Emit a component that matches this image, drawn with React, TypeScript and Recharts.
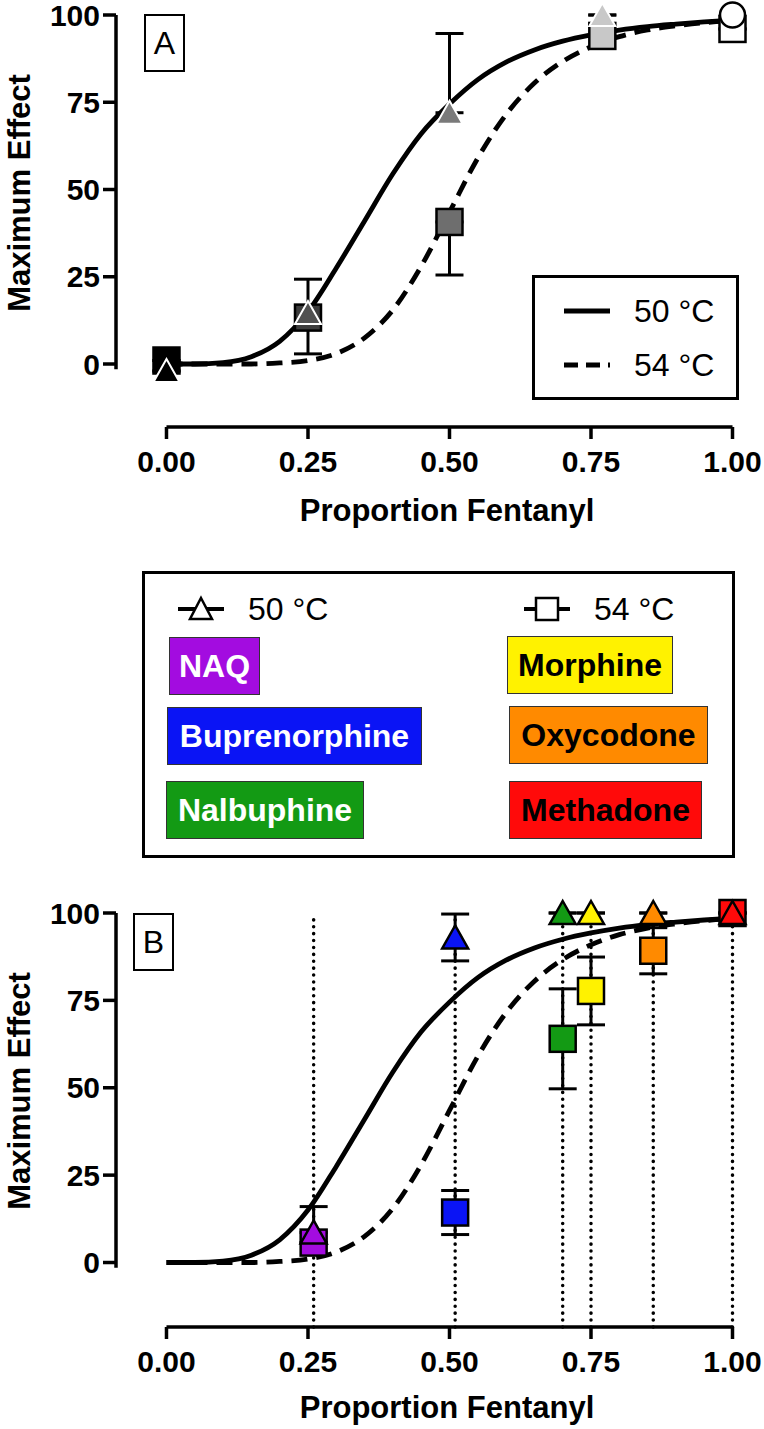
import { ComposedChart, Line, Scatter, XAxis, YAxis, ErrorBar, ReferenceLine, Cell } from 'recharts';

const FONT = '"Liberation Sans", Arial, Helvetica, sans-serif';

// fitted curves, every 0.05
const fitX = [0, 0.05, 0.1, 0.15, 0.2, 0.25, 0.3, 0.35, 0.4, 0.45, 0.5, 0.55, 0.6, 0.65, 0.7, 0.75, 0.8, 0.85, 0.9, 0.95, 1];
const fit50 = [0, 0, 0.4, 2.1, 6.5, 15, 27.5, 41, 54.5, 66, 74.5, 81.5, 86.5, 90, 92.5, 94.3, 95.7, 96.7, 97.4, 98, 98.5];
const fit54 = [0, 0, 0, 0, 0.3, 1, 3, 7.5, 15.5, 28, 43.5, 59, 71.5, 80.5, 86.7, 90.9, 93.8, 95.7, 96.9, 97.8, 98.4];

const xTicks = [0, 0.25, 0.5, 0.75, 1];
const yTicks = [0, 25, 50, 75, 100];

// panel A: fentanyl / NAQ mixtures
const propA50 = [0, 0.25, 0.5, 0.77];
const effA50 = [-2, 14.6, 72, 100];
const errA50 = [[0, 0], [0, 9.7], [0, 22.7], [0, 0]];
const propA54 = [0, 0.25, 0.5, 0.77, 1];
const effA54 = [1, 13.3, 40.7, 94, 96];
const errA54 = [[0, 0], [10.4, 0], [15.2, 0], [0, 0], [0, 0]];
const fentanylAlone = [{ x: 1, y: 100 }];

// panel B: fentanyl with each opioid
const drugs = ['NAQ', 'Buprenorphine', 'Nalbuphine', 'Morphine', 'Oxycodone', 'Methadone'];
const propB = [0.26, 0.51, 0.7, 0.75, 0.86, 1];
const effB50 = [8.6, 93, 100, 100, 100, 100];
const errB50 = [[0, 7.4], [6.7, 6.7], [0, 0], [0, 0], [0, 0], [0, 0]];
const effB54 = [5.7, 14.3, 64, 77.7, 89.2, 100];
const errB54 = [[0, 0], [6.3, 6.3], [14.3, 14.3], [9.7, 9.7], [6.6, 6.6], [0, 0]];

const grayTri = ['#000000', '#505050', '#7a7a7a', '#c8c8c8'];
const graySq = ['#000000', '#3c3c3c', '#6e6e6e', '#c8c8c8', '#ffffff'];
const drugColor: Record<string, string> = {
  NAQ: '#a30ce0',
  Buprenorphine: '#0a14f5',
  Nalbuphine: '#139a14',
  Morphine: '#fff200',
  Oxycodone: '#ff8a00',
  Methadone: '#ff0a0a',
};
const drugText: Record<string, string> = {
  NAQ: '#fff', Buprenorphine: '#fff', Nalbuphine: '#fff',
  Morphine: '#000', Oxycodone: '#000', Methadone: '#000',
};
// legend chips: page position and width
const chipBox: Record<string, [number, number, number]> = {
  NAQ: [169, 637, 92],
  Morphine: [507, 636, 167],
  Buprenorphine: [167, 707, 256],
  Oxycodone: [509, 706, 200],
  Nalbuphine: [166, 781, 199],
  Methadone: [509, 781, 194],
};

const X_MIN = -0.0892;

const curve = (ys: number[]) => fitX.map((x, i) => ({ x, y: ys[i] }));
const points = (xs: number[], ys: number[], errs: number[][]) =>
  xs.map((x, i) => ({ x, y: ys[i], err: errs[i] }));

function Marker(props: any) {
  const { cx, cy, fill, kind, edge, sw } = props;
  if (cx == null || cy == null) return <g />;
  if (kind === 'square') {
    return <rect x={cx - 13} y={cy - 13} width={26} height={26} fill={fill} stroke={edge} strokeWidth={sw} />;
  }
  if (kind === 'circle') {
    return <circle cx={cx} cy={cy} r={12.5} fill={fill} stroke={edge} strokeWidth={sw} />;
  }
  return (
    <path
      d={`M${cx},${cy - 12}L${cx + 13},${cy + 11}L${cx - 13},${cy + 11}Z`}
      fill={fill}
      stroke={edge}
      strokeWidth={sw}
      strokeLinejoin="miter"
    />
  );
}

const noMarker = () => <g />;

function axes(yMin: number, titleY: number) {
  const tickStyle = { fill: '#000', fontSize: 30, fontWeight: 700, fontFamily: FONT };
  return [
    <XAxis
      key="x"
      type="number"
      dataKey="x"
      domain={[X_MIN, 1]}
      ticks={xTicks}
      interval={0}
      tickFormatter={(v: number) => v.toFixed(2)}
      axisLine={false}
      tickLine={{ stroke: '#000', strokeWidth: 3.5 }}
      tickSize={12}
      tickMargin={12}
      height={100}
      tick={tickStyle}
      label={() => (
        <text x={447} y={titleY} textAnchor="middle" fontSize={31} fontWeight={700} fontFamily={FONT} fill="#000">
          Proportion Fentanyl
        </text>
      )}
    />,
    <YAxis
      key="y"
      type="number"
      dataKey="y"
      domain={[yMin, 100]}
      ticks={yTicks}
      interval={0}
      width={116}
      axisLine={false}
      tickLine={{ stroke: '#000', strokeWidth: 3.5 }}
      tickSize={13}
      tickMargin={3}
      tick={tickStyle}
      label={() => (
        <text
          x={30}
          y={193}
          transform="rotate(-90 30 193)"
          textAnchor="middle"
          fontSize={31}
          fontWeight={700}
          fontFamily={FONT}
          fill="#000"
        >
          Maximum Effect
        </text>
      )}
    />,
    <ReferenceLine
      key="yline"
      segment={[{ x: X_MIN, y: -1.5 }, { x: X_MIN, y: 100 }]}
      stroke="#000"
      strokeWidth={3.5}
      ifOverflow="visible"
    />,
    <ReferenceLine
      key="xline"
      segment={[{ x: 0, y: yMin }, { x: 1, y: yMin }]}
      stroke="#000"
      strokeWidth={3.5}
      ifOverflow="visible"
    />,
  ];
}

function fits() {
  return [
    <Line
      key="f50"
      data={curve(fit50)}
      dataKey="y"
      type="monotone"
      stroke="#000"
      strokeWidth={4.8}
      dot={false}
      activeDot={false}
      isAnimationActive={false}
      legendType="none"
    />,
    <Line
      key="f54"
      data={curve(fit54)}
      dataKey="y"
      type="monotone"
      stroke="#000"
      strokeWidth={4.8}
      strokeDasharray="16 9"
      dot={false}
      activeDot={false}
      isAnimationActive={false}
      legendType="none"
    />,
  ];
}

function errorBars(key: string, data: any[]) {
  return (
    <Scatter key={key} data={data} shape={noMarker} isAnimationActive={false} legendType="none">
      <ErrorBar dataKey="err" direction="y" width={14} stroke="#000" strokeWidth={3} />
    </Scatter>
  );
}

function ChartA() {
  const a50 = points(propA50, effA50, errA50);
  const a54 = points(propA54, effA54, errA54);
  return (
    <ComposedChart width={764} height={540} margin={{ top: 15, right: 31.5, bottom: 13, left: 0 }}>
      {axes(-18.05, 521)}
      {fits()}
      {errorBars('eA54', a54)}
      {errorBars('eA50', a50)}
      <Scatter
        data={a54}
        isAnimationActive={false}
        legendType="none"
        shape={(p: any) => <Marker {...p} kind="square" edge="#000" sw={2.5} />}
      >
        {a54.map((_, i) => (
          <Cell key={i} fill={graySq[i]} />
        ))}
      </Scatter>
      <Scatter
        data={a50}
        isAnimationActive={false}
        legendType="none"
        shape={(p: any) => <Marker {...p} kind="triangle" edge="#fff" sw={2} />}
      >
        {a50.map((_, i) => (
          <Cell key={i} fill={grayTri[i]} />
        ))}
      </Scatter>
      <Scatter
        data={fentanylAlone}
        isAnimationActive={false}
        legendType="none"
        fill="#fff"
        shape={(p: any) => <Marker {...p} kind="circle" edge="#000" sw={2.5} />}
      />
    </ComposedChart>
  );
}

function ChartB() {
  const b50 = points(propB, effB50, errB50);
  const b54 = points(propB, effB54, errB54);
  const yMin = -18.45;
  return (
    <ComposedChart width={764} height={531} margin={{ top: 15, right: 31.5, bottom: 2, left: 0 }}>
      {axes(yMin, 520)}
      {propB.map((x) => (
        <ReferenceLine
          key={`d${x}`}
          segment={[{ x, y: yMin }, { x, y: 100 }]}
          stroke="#000"
          strokeWidth={3.5}
          strokeDasharray="0.1 6.8"
          strokeLinecap="round"
          ifOverflow="visible"
        />
      ))}
      {fits()}
      {errorBars('eB54', b54)}
      {errorBars('eB50', b50)}
      <Scatter
        data={b54}
        isAnimationActive={false}
        legendType="none"
        shape={(p: any) => <Marker {...p} kind="square" edge="#000" sw={2.5} />}
      >
        {drugs.map((d) => (
          <Cell key={d} fill={drugColor[d]} />
        ))}
      </Scatter>
      <Scatter
        data={b50}
        isAnimationActive={false}
        legendType="none"
        shape={(p: any) => <Marker {...p} kind="triangle" edge="#000" sw={2.5} />}
      >
        {drugs.map((d) => (
          <Cell key={d} fill={drugColor[d]} />
        ))}
      </Scatter>
    </ComposedChart>
  );
}

const panelTag = (letter: string, left: number, top: number) => (
  <div
    style={{
      position: 'absolute',
      left,
      top,
      width: 37,
      height: 54,
      border: '2.5px solid #000',
      fontSize: 32,
      lineHeight: '54px',
      textAlign: 'center',
      background: '#fff',
    }}
  >
    {letter}
  </div>
);

function LineKey({ dashed }: { dashed?: boolean }) {
  return (
    <svg width={50} height={10} style={{ display: 'block' }}>
      <line x1={2} y1={5} x2={48} y2={5} stroke="#000" strokeWidth={4.8} strokeDasharray={dashed ? '14 8' : undefined} />
    </svg>
  );
}

function SymbolKey({ kind }: { kind: 'triangle' | 'square' }) {
  return (
    <svg width={50} height={30} style={{ display: 'block' }}>
      <line x1={2} y1={15} x2={48} y2={15} stroke="#000" strokeWidth={4} />
      {kind === 'triangle' ? (
        <path d="M25,4L36,25L14,25Z" fill="#fff" stroke="#000" strokeWidth={2.5} />
      ) : (
        <rect x={14} y={4} width={22} height={22} fill="#fff" stroke="#000" strokeWidth={2.5} />
      )}
    </svg>
  );
}

export default function App() {
  return (
    <div
      style={{
        position: 'absolute',
        left: 0,
        top: 0,
        width: 764,
        height: 1429,
        background: '#fff',
        fontFamily: FONT,
        color: '#000',
        overflow: 'hidden',
      }}
    >
      <div style={{ position: 'absolute', left: 0, top: 0 }}>
        <ChartA />
      </div>
      <div style={{ position: 'absolute', left: 0, top: 898 }}>
        <ChartB />
      </div>

      {panelTag('A', 144, 14)}
      {panelTag('B', 133, 913)}

      {/* panel A key */}
      <div
        style={{
          position: 'absolute',
          left: 532,
          top: 275,
          width: 201,
          height: 119,
          border: '3px solid #000',
          background: '#fff',
        }}
      >
        {[false, true].map((dashed, i) => (
          <div
            key={i}
            style={{ position: 'absolute', left: 27, top: 14 + i * 54, height: 38, display: 'flex', alignItems: 'center' }}
          >
            <LineKey dashed={dashed} />
            <span style={{ fontSize: 32, marginLeft: 22 }}>{dashed ? '54 °C' : '50 °C'}</span>
          </div>
        ))}
      </div>

      {/* shared key between panels */}
      <div
        style={{
          position: 'absolute',
          left: 142,
          top: 571,
          width: 587,
          height: 281,
          border: '3.5px solid #000',
          background: '#fff',
        }}
      />
      <div style={{ position: 'absolute', left: 176, top: 590, height: 38, display: 'flex', alignItems: 'center' }}>
        <SymbolKey kind="triangle" />
        <span style={{ fontSize: 32, marginLeft: 22 }}>50 °C</span>
      </div>
      <div style={{ position: 'absolute', left: 522, top: 590, height: 38, display: 'flex', alignItems: 'center' }}>
        <SymbolKey kind="square" />
        <span style={{ fontSize: 32, marginLeft: 22 }}>54 °C</span>
      </div>
      {drugs.map((d) => {
        const [left, top, width] = chipBox[d];
        return (
          <div
            key={d}
            style={{
              position: 'absolute',
              left,
              top,
              width: width - 3,
              height: 56,
              lineHeight: '56px',
              background: drugColor[d],
              border: '1.5px solid #333',
              color: drugText[d],
              fontSize: 32,
              fontWeight: 700,
              textAlign: 'center',
            }}
          >
            {d}
          </div>
        );
      })}
    </div>
  );
}
